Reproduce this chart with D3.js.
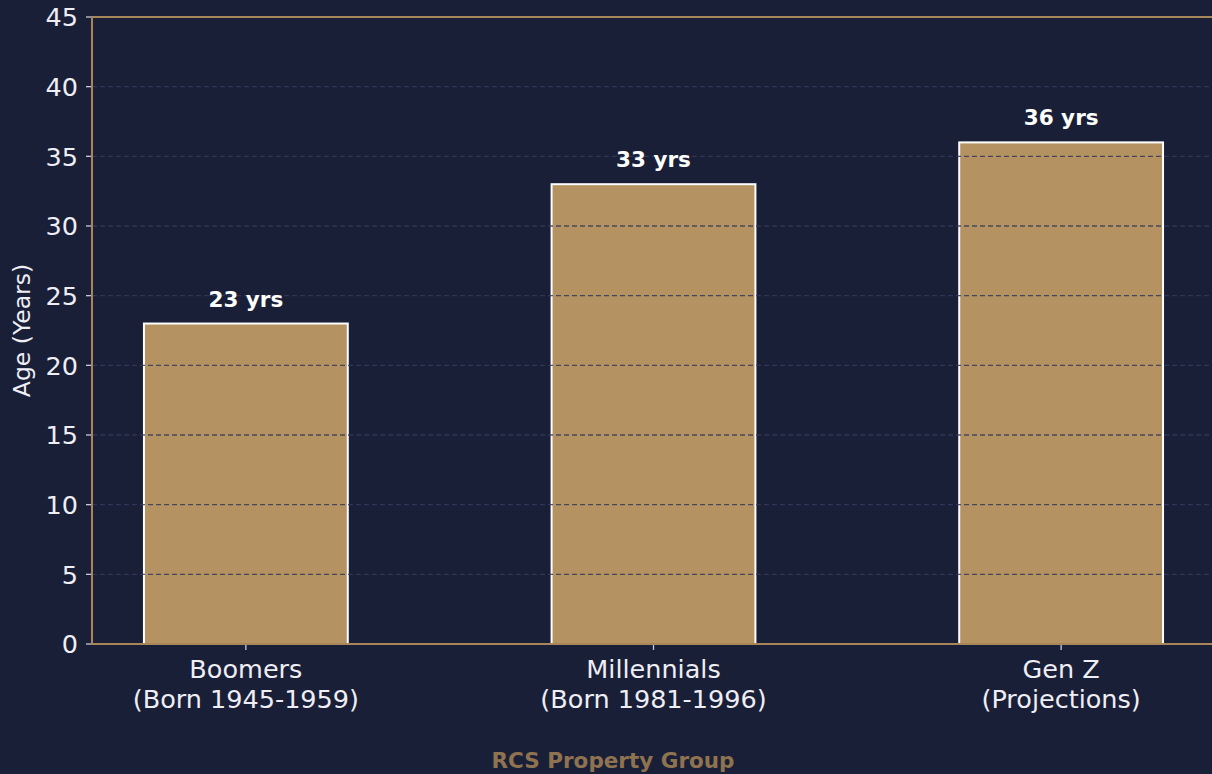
<!DOCTYPE html>
<html><head><meta charset="utf-8">
<script src="https://cdn.jsdelivr.net/npm/d3@7"></script>
<style>body{margin:0;background:#1a1f38;}svg{display:block;font-family:"DejaVu Sans",sans-serif;}</style>
</head><body>
<svg id="c" width="1212" height="774"></svg>
<script>
const categories = ["Boomers\n(Born 1945-1959)", "Millennials\n(Born 1981-1996)", "Gen Z\n(Projections)"];
const values = [23, 33, 36];
const valueLabels = ["23 yrs", "33 yrs", "36 yrs"];
const yTicks = [0, 5, 10, 15, 20, 25, 30, 35, 40, 45];

const svg = d3.select("#c");
const W = 1212, H = 774;
svg.append("rect").attr("width", W).attr("height", H).attr("fill", "#1a1f38");
const mLeft = 92, mTop = 17, mBottom = 644;
const x = d3.scaleLinear().domain([-0.375, 2.375]).range([mLeft + 1, 1214]);
const y = d3.scaleLinear().domain([0, 45]).range([mBottom, mTop]);
const bw = x(0.25) - x(-0.25);

// bars
svg.selectAll("rect.bar").data(values).enter().append("rect")
  .attr("x", (d, i) => x(i) - bw / 2).attr("width", bw)
  .attr("y", d => y(d)).attr("height", d => y(0) - y(d))
  .attr("fill", "#b59262").attr("stroke", "#ffffff").attr("stroke-width", 2);

// grid (above bars)
svg.selectAll("line.grid").data(yTicks.filter(t => t > 0 && t < 45)).enter().append("line")
  .attr("x1", mLeft).attr("x2", W).attr("y1", d => y(d)).attr("y2", d => y(d))
  .attr("stroke", "#343a5c").attr("stroke-opacity", 0.85).attr("stroke-width", 1.3)
  .attr("stroke-dasharray", "5,3");

// value labels
svg.selectAll("text.val").data(values).enter().append("text")
  .attr("x", (d, i) => x(i)).attr("y", d => y(d) - 17)
  .attr("text-anchor", "middle").attr("fill", "#ffffff").attr("font-weight", "bold")
  .attr("font-size", 21.5).text((d, i) => valueLabels[i]);

// y axis ticks & labels
yTicks.forEach(t => {
  svg.append("line").attr("x1", mLeft - 6).attr("x2", mLeft).attr("y1", y(t)).attr("y2", y(t))
    .attr("stroke", "#c8cad6").attr("stroke-width", 1.3);
  svg.append("text").attr("x", mLeft - 14).attr("y", y(t)).attr("dy", "0.36em")
    .attr("text-anchor", "end").attr("fill", "#eeeef4").attr("font-size", 25.5).text(t);
});

// x ticks & labels
categories.forEach((c, i) => {
  svg.append("line").attr("x1", x(i)).attr("x2", x(i)).attr("y1", mBottom).attr("y2", mBottom + 6)
    .attr("stroke", "#c8cad6").attr("stroke-width", 1.3);
  const lines = c.split("\n");
  lines.forEach((ln, j) => {
    svg.append("text").attr("x", x(i)).attr("y", 678 + j * 29.5)
      .attr("text-anchor", "middle").attr("fill", "#eeeef4").attr("font-size", 25.5).text(ln);
  });
});

// spines
const spine = "#a8865a";
svg.append("line").attr("x1", mLeft).attr("x2", mLeft).attr("y1", mTop).attr("y2", mBottom + 1).attr("stroke", spine).attr("stroke-width", 2);
svg.append("line").attr("x1", mLeft).attr("x2", W).attr("y1", mTop).attr("y2", mTop).attr("stroke", spine).attr("stroke-width", 2);
svg.append("line").attr("x1", mLeft - 1).attr("x2", W).attr("y1", mBottom).attr("y2", mBottom).attr("stroke", spine).attr("stroke-width", 2);

// y label
svg.append("text").attr("transform", "translate(30," + ((mTop + mBottom) / 2) + ") rotate(-90)")
  .attr("text-anchor", "middle").attr("fill", "#eeeef4").attr("font-size", 23.5).text("Age (Years)");

// footer
svg.append("text").attr("x", 613).attr("y", 768).attr("text-anchor", "middle")
  .attr("fill", "#8f7350").attr("font-weight", "bold").attr("font-size", 21.5).text("RCS Property Group");
</script>
</body></html>
